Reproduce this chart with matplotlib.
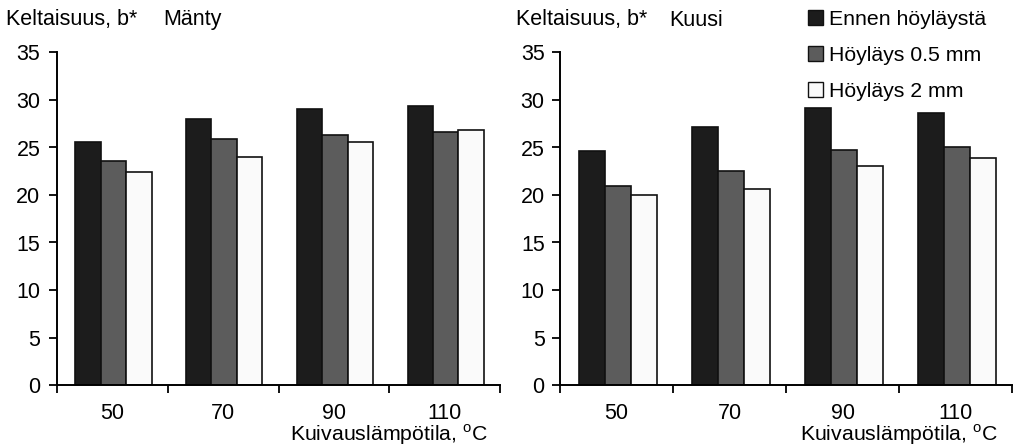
import matplotlib
matplotlib.use("Agg")
import matplotlib.pyplot as plt
import numpy as np
from matplotlib.patches import Patch

plt.rcParams['font.family'] = ['Liberation Sans', 'DejaVu Sans']

categories = ['50', '70', '90', '110']
series = ['Ennen höyläystä', 'Höyläys 0.5 mm', 'Höyläys 2 mm']
manty = {
    'Ennen höyläystä': [25.6, 28.0, 29.1, 29.4],
    'Höyläys 0.5 mm': [23.6, 25.9, 26.3, 26.6],
    'Höyläys 2 mm': [22.4, 24.0, 25.6, 26.8],
}
kuusi = {
    'Ennen höyläystä': [24.6, 27.2, 29.2, 28.6],
    'Höyläys 0.5 mm': [20.9, 22.5, 24.7, 25.0],
    'Höyläys 2 mm': [20.0, 20.6, 23.0, 23.9],
}
colors = ['#1c1c1c', '#5c5c5c', '#fafafa']

fig = plt.figure(figsize=(10.15, 4.48), dpi=100)
axL = fig.add_axes([57/1015, 1-385/448, 443/1015, (385-52.5)/448])
axR = fig.add_axes([560/1015, 1-385/448, 452/1015, (385-52.5)/448])

def draw(ax, data, title_name, tx, nx, ypad):
    x = np.arange(len(categories))
    w = 0.23
    for i, s in enumerate(series):
        ax.bar(x + (i - 1) * w + 0.01, data[s], width=w, color=colors[i],
               edgecolor='#111111', linewidth=1.2, zorder=2)
    ax.set_xlim(-0.5, len(categories) - 0.5)
    ax.set_ylim(0, 35)
    ax.set_yticks(np.arange(0, 36, 5))
    ax.tick_params(axis='y', direction='out', length=6, width=1.3, labelsize=15.5, pad=ypad)
    ax.set_xticks(x)
    ax.set_xticklabels(categories)
    ax.tick_params(axis='x', which='major', length=0, labelsize=15.5, pad=13)
    ax.set_xticks(np.arange(-0.5, len(categories)), minor=True)
    ax.tick_params(axis='x', which='minor', direction='out', length=6, width=1.3)
    for sp in ['top', 'right']:
        ax.spines[sp].set_visible(False)
    for sp in ['left', 'bottom']:
        ax.spines[sp].set_linewidth(1.4)
    ax.text(0.75, -0.15, 'Kuivauslämpötila, $^{\\mathregular{o}}$C', transform=ax.transAxes,
            ha='center', va='center', fontsize=15.3)
    fig.text(tx/1015, 1-20/448, 'Keltaisuus, b*', ha='left', va='center', fontsize=15.5)
    fig.text(nx/1015, 1-20/448, title_name, ha='left', va='center', fontsize=15.5)

draw(axL, manty, 'Mänty', 6, 163, 6)
draw(axR, kuusi, 'Kuusi', 516, 669, 5)

handles = [Patch(facecolor=colors[i], edgecolor='#111111', linewidth=1.0) for i in range(3)]
fig.legend(handles, series, loc='upper left', bbox_to_anchor=(808/1015, 1-10/448),
           frameon=False, fontsize=15.3, handlelength=0.7, handleheight=0.7,
           handletextpad=0.3, labelspacing=0.8, borderaxespad=0, borderpad=0)

fig.savefig('out.png', dpi=100)
